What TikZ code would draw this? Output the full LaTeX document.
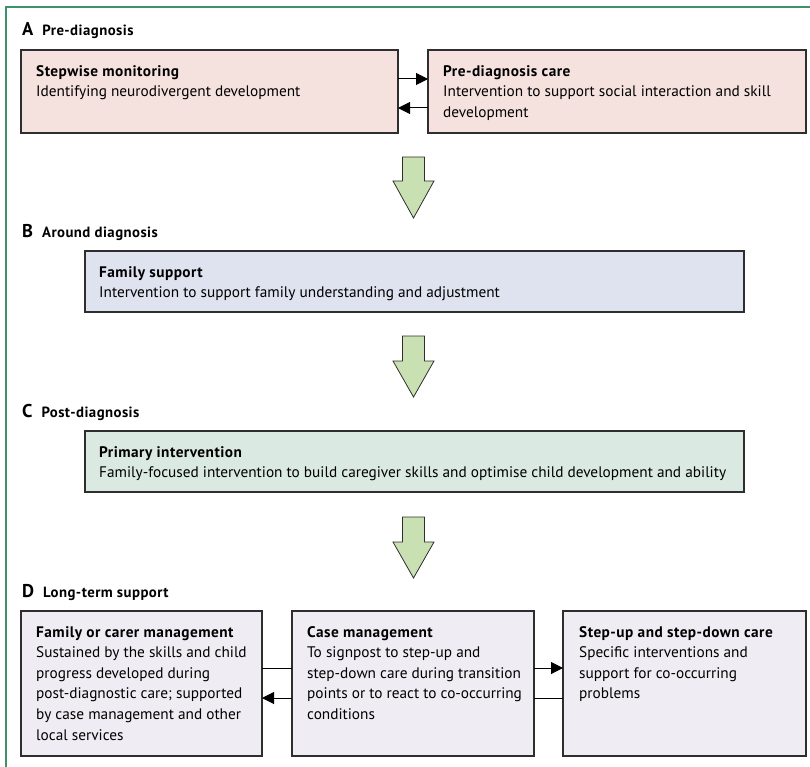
\documentclass[tikz,border=0pt]{standalone}
\usepackage{fontspec}
\setmainfont{PT Sans}
\usetikzlibrary{arrows.meta,calc}
\definecolor{frameg}{HTML}{3F9169}
\definecolor{boxline}{HTML}{2E2E2E}
\definecolor{fillA}{HTML}{F5E2DF}
\definecolor{fillB}{HTML}{DEE3EF}
\definecolor{fillC}{HTML}{DAE9E1}
\definecolor{fillD}{HTML}{EFEDF3}
\definecolor{arrowg}{HTML}{C9E1B2}
\newcommand{\ttl}[1]{{\bfseries\addfontfeatures{LetterSpace=3}#1}}
\newcommand{\hletter}[1]{{\fontsize{18.5}{18}\selectfont #1}\hspace{9pt}}
\begin{document}
\begin{tikzpicture}[x=1pt,y=-1pt,
  box/.style={draw=boxline, line width=1.1pt, inner sep=0pt, outer sep=0pt, anchor=north west},
  txt/.style={anchor=north west, inner sep=0pt, align=left, font=\fontsize{15.3}{20.6}\selectfont},
  hdr/.style={anchor=base west, inner sep=0pt, font=\fontsize{14.8}{18}\selectfont\bfseries\addfontfeatures{LetterSpace=3}},
  conn/.style={line width=1pt, draw=black},
  tip/.style={-{Triangle[length=12pt,width=12pt]}},
  blockarrow/.style={fill=arrowg, draw=boxline, line width=0.8pt, line join=miter}
]
\useasboundingbox (0,0) rectangle (810,767);
% frame
\draw[frameg, line width=1.5pt] (6,770) -- (6,7) -- (815,7);

% headers
\node[hdr] (hA) at (22,36) {\hletter{A}Pre-diagnosis};
\node[hdr] (hB) at (22,237) {\hletter{B}Around diagnosis};
\node[hdr] (hC) at (22,417) {\hletter{C}Post-diagnosis};
\node[hdr] (hD) at (22,597) {\hletter{D}Long-term support};

% section A
\node[box, fill=fillA, minimum width=377pt, minimum height=83pt] (a1) at (21,50) {};
\node[box, fill=fillA, minimum width=378pt, minimum height=83pt] (a2) at (428,50) {};
\node[txt] (a1t) at ($(a1.north west)+(15,11.5)$) {\strut\ttl{Stepwise monitoring}\\Identifying neurodivergent development};
\node[txt] (a2t) at ($(a2.north west)+(15,11.5)$) {\strut\ttl{Pre-diagnosis care}\\Intervention to support social interaction and skill\\development};
\draw[conn, tip] ([yshift=12.5pt]a1.east) -- ([yshift=12.5pt]a2.west);
\draw[conn, tip] ([yshift=-16.5pt]a2.west) -- ([yshift=-16.5pt]a1.east);

% arrow 1
\draw[blockarrow] (402.5,157) -- (424.5,157) -- (424.5,181) -- (434,181) -- (413.5,218) -- (393,181) -- (402.5,181) -- cycle;

% section B
\node[box, fill=fillB, minimum width=659pt, minimum height=61pt] (b1) at (85,251) {};
\node[txt] (b1t) at ($(b1.north west)+(14,11.5)$) {\strut\ttl{Family support}\\Intervention to support family understanding and adjustment};

% arrow 2
\draw[blockarrow] (402.5,336) -- (424.5,336) -- (424.5,361) -- (434,361) -- (413.5,397) -- (393,361) -- (402.5,361) -- cycle;

% section C
\node[box, fill=fillC, minimum width=659pt, minimum height=61pt] (c1) at (85,431) {};
\node[txt] (c1t) at ($(c1.north west)+(14,11.5)$) {\strut\ttl{Primary intervention}\\Family-focused intervention to build caregiver skills and optimise child development and ability};

% arrow 3
\draw[blockarrow] (402.5,517) -- (424.5,517) -- (424.5,542) -- (434,542) -- (413.5,578) -- (393,542) -- (402.5,542) -- cycle;

% section D
\node[box, fill=fillD, minimum width=241pt, minimum height=145pt] (d1) at (21,611) {};
\node[box, fill=fillD, minimum width=242pt, minimum height=145pt] (d2) at (292,611) {};
\node[box, fill=fillD, minimum width=243pt, minimum height=145pt] (d3) at (563,611) {};
\node[txt] (d1t) at ($(d1.north west)+(15,11.5)$) {\strut\ttl{Family or carer management}\\Sustained by the skills and child\\progress developed during\\post-diagnostic care; supported\\by case management and other\\local services};
\node[txt] (d2t) at ($(d2.north west)+(15,11.5)$) {\strut\ttl{Case management}\\To signpost to step-up and\\step-down care during transition\\points or to react to co-occurring\\conditions};
\node[txt] (d3t) at ($(d3.north west)+(16,11.5)$) {\strut\ttl{Step-up and step-down care}\\Specific interventions and\\support for co-occurring\\problems};
\draw[conn] ([yshift=15.5pt]d2.west) -- ([yshift=15.5pt]d1.east);
\draw[conn, tip] ([yshift=-14.5pt]d2.west) -- ([yshift=-14.5pt]d1.east);
\draw[conn, tip] ([yshift=15.5pt]d2.east) -- ([yshift=15.5pt]d3.west);
\draw[conn] ([yshift=-14.5pt]d3.west) -- ([yshift=-14.5pt]d2.east);
\end{tikzpicture}
\end{document}
